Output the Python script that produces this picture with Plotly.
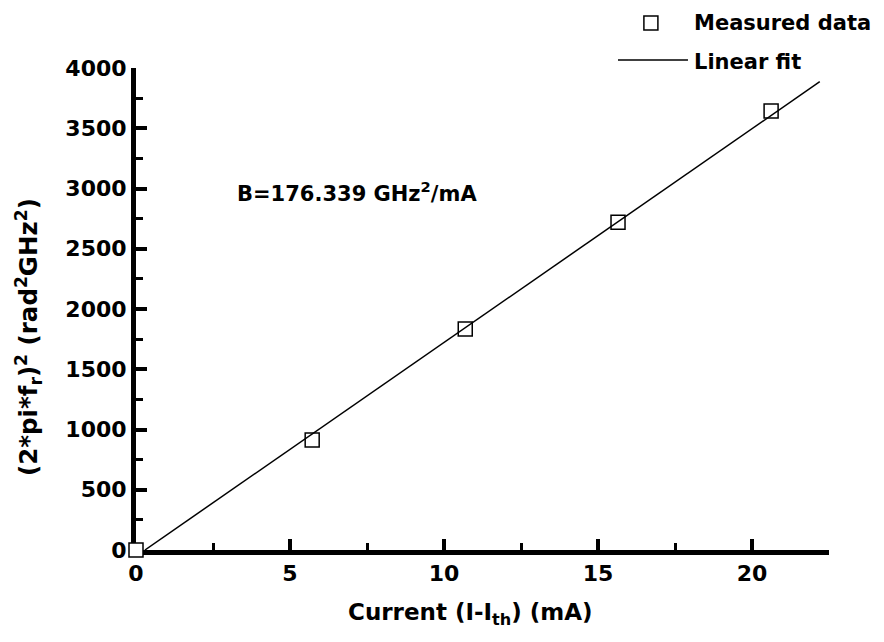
import plotly.graph_objects as go

current_ma = [0.0, 5.72, 10.69, 15.65, 20.62]
omega_sq = [0, 913, 1834, 2720, 3643]

# Linear fit end points
fit_x = [0.29, 22.2]
fit_y = [0, 3886]

x_tick_vals = [0, 5, 10, 15, 20]
y_tick_vals = [0, 500, 1000, 1500, 2000, 2500, 3000, 3500, 4000]

FONT = "DejaVu Sans"


def f(size):
    return dict(family=FONT, size=size, color="black", weight="bold")


fig = go.Figure()
fig.add_trace(go.Scatter(
    x=current_ma, y=omega_sq, mode="markers", name="Measured data",
    marker=dict(symbol="square", size=14, color="white",
                line=dict(color="black", width=1.5)),
    cliponaxis=False, showlegend=False))
fig.add_trace(go.Scatter(
    x=fit_x, y=fit_y, mode="lines", name="Linear fit",
    line=dict(color="black", width=1.5), showlegend=False))

axis_common = dict(
    showline=True, linecolor="black", linewidth=5, mirror=False,
    ticks="inside", ticklen=11, tickwidth=4, tickcolor="black",
    showgrid=False, zeroline=False, layer="below traces",
    tickfont=f(22),
)

fig.update_xaxes(
    range=[0, 22.5], tickvals=x_tick_vals,
    minor=dict(ticks="inside", dtick=2.5, tick0=0, ticklen=7, tickwidth=3,
               tickcolor="black", showgrid=False),
    **axis_common)
fig.update_yaxes(
    range=[0, 4000], tickvals=y_tick_vals,
    minor=dict(ticks="inside", dtick=250, tick0=0, ticklen=7, tickwidth=3,
               tickcolor="black", showgrid=False),
    **axis_common)

# Axis titles
fig.add_annotation(
    x=0.4834, y=-0.1328, xref="paper", yref="paper",
    xanchor="center", yanchor="middle", showarrow=False,
    text="Current (I-I<sub>th</sub>) (mA)", font=f(23))
fig.add_annotation(
    x=-0.1558, y=0.4419, xref="paper", yref="paper",
    xanchor="center", yanchor="middle", showarrow=False, textangle=-90,
    text="(2*pi*f<sub>r</sub>)<sup>2</sup> (rad<sup>2</sup>GHz<sup>2</sup>)",
    font=f(24.5))

fig.add_annotation(
    x=3.21, y=2971, xref="x", yref="y", xanchor="left", yanchor="middle",
    text="B=176.339 GHz<sup>2</sup>/mA", showarrow=False, font=f(21))

# Legend drawn manually
fig.add_shape(type="rect", xref="paper", yref="paper",
              xsizemode="pixel", ysizemode="pixel",
              xanchor=0.743, yanchor=1.0934, x0=-7, x1=7, y0=-7, y1=7,
              line=dict(color="black", width=1.5), fillcolor="white")
fig.add_shape(type="line", xref="paper", yref="paper",
              x0=0.6955, x1=0.7965, y0=1.0166, y1=1.0166,
              line=dict(color="black", width=1.5))
fig.add_annotation(x=0.8025, y=1.0934, xref="paper", yref="paper",
                   xanchor="left", yanchor="middle", text="Measured data",
                   showarrow=False, font=f(21))
fig.add_annotation(x=0.8025, y=1.0124, xref="paper", yref="paper",
                   xanchor="left", yanchor="middle", text="Linear fit",
                   showarrow=False, font=f(21))

fig.update_layout(
    width=884, height=642,
    margin=dict(l=136, r=55, t=68, b=92),
    paper_bgcolor="white", plot_bgcolor="white",
    showlegend=False,
)

fig.write_html("out.html", config={"displayModeBar": False},
               post_script="document.body.style.margin='0';")
